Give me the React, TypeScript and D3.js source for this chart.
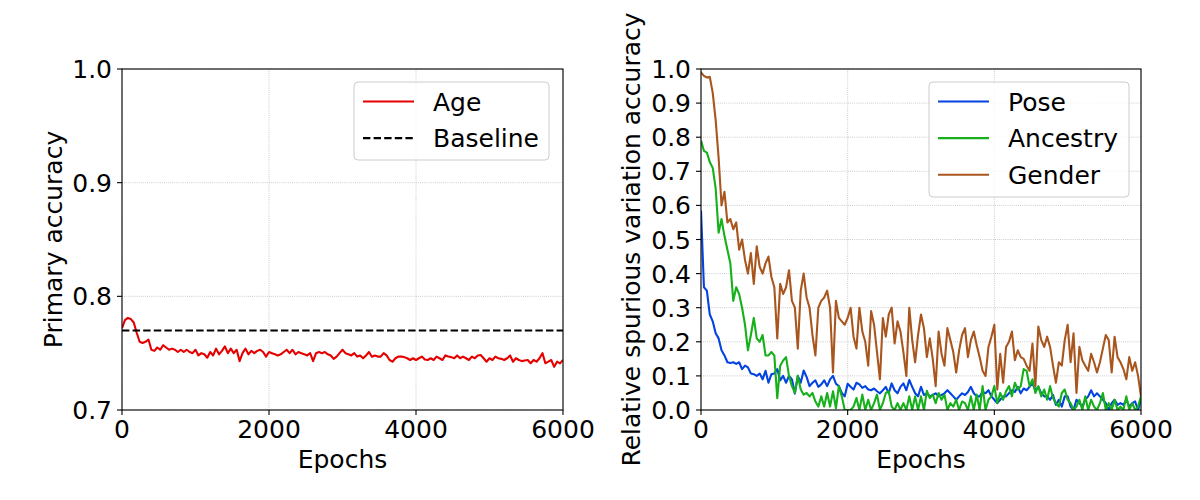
import React from "react";
import * as d3 from "d3";

// Epoch sampling: values are read every 40 epochs from 0 to 6000
const EPOCH_MAX = 6000;

const ageValues = [
  0.772, 0.779, 0.781, 0.78, 0.777, 0.768, 0.76, 0.759, 0.76, 0.762,
  0.753, 0.752, 0.755, 0.753, 0.757, 0.755, 0.753, 0.754, 0.753, 0.751,
  0.753, 0.751, 0.753, 0.751, 0.75, 0.753, 0.748, 0.75, 0.749, 0.746,
  0.751, 0.748, 0.754, 0.749, 0.752, 0.756, 0.75, 0.754, 0.75, 0.753,
  0.743, 0.75, 0.754, 0.749, 0.752, 0.75, 0.752, 0.753, 0.751, 0.747,
  0.751, 0.75, 0.749, 0.748, 0.749, 0.751, 0.753, 0.75, 0.753, 0.749,
  0.751, 0.75, 0.749, 0.748, 0.75, 0.743, 0.75, 0.751, 0.75, 0.751,
  0.749, 0.748, 0.745, 0.747, 0.75, 0.753, 0.75, 0.749, 0.748, 0.75,
  0.747, 0.748, 0.7455, 0.748, 0.751, 0.7469, 0.748, 0.747, 0.747, 0.75,
  0.748, 0.744, 0.7425, 0.7455, 0.747, 0.747, 0.7465, 0.7455, 0.744, 0.7455,
  0.744, 0.7455, 0.747, 0.7445, 0.744, 0.7455, 0.744, 0.747, 0.7455, 0.744,
  0.748, 0.747, 0.7465, 0.7455, 0.748, 0.7455, 0.747, 0.7455, 0.744, 0.747,
  0.7455, 0.748, 0.7484, 0.7455, 0.7425, 0.7455, 0.744, 0.747, 0.7455, 0.745,
  0.744, 0.7455, 0.748, 0.7425, 0.7455, 0.744, 0.743, 0.7435, 0.744, 0.7411,
  0.744, 0.7425, 0.7455, 0.75, 0.7411, 0.7425, 0.744, 0.738, 0.7425, 0.741,
  0.744,
];
const baselineValue = 0.77;

const poseValues = [
  0.585, 0.36, 0.35, 0.28, 0.26, 0.225, 0.21, 0.175, 0.16, 0.14,
  0.138, 0.14, 0.135, 0.14, 0.12, 0.13, 0.125, 0.107, 0.105, 0.1,
  0.107, 0.09, 0.115, 0.08, 0.105, 0.107, 0.12, 0.087, 0.1, 0.08,
  0.1, 0.09, 0.048, 0.1, 0.08, 0.116, 0.097, 0.07, 0.08, 0.087,
  0.068, 0.075, 0.087, 0.07, 0.09, 0.1, 0.077, 0.07, 0.05, 0.04,
  0.077, 0.068, 0.06, 0.08, 0.075, 0.065, 0.07, 0.06, 0.058, 0.063,
  0.055, 0.049, 0.058, 0.068, 0.049, 0.078, 0.058, 0.049, 0.068, 0.078,
  0.058, 0.088, 0.068, 0.049, 0.04, 0.068, 0.044, 0.049, 0.04, 0.044,
  0.049, 0.04, 0.044, 0.049, 0.058, 0.049, 0.04, 0.03, 0.04, 0.049,
  0.044, 0.053, 0.068, 0.049, 0.04, 0.04, 0.053, 0.049, 0.058, 0.04,
  0.03, 0.02, 0.03, 0.04, 0.04, 0.049, 0.058, 0.053, 0.068, 0.049,
  0.063, 0.058, 0.068, 0.078, 0.058, 0.068, 0.049, 0.04, 0.04, 0.03,
  0.044, 0.015, 0.03, 0.01, 0.04, 0.04, 0.01, 0.0, 0.03, 0.02,
  0.01, 0.03, 0.04, 0.058, 0.04, 0.049, 0.04, 0.03, 0.02, 0.0,
  0.02, 0.03, 0.015, 0.02, 0.015, 0.03, 0.01, 0.02, 0.025, 0.0,
  0.03,
];

const ancestryValues = [
  0.79, 0.76, 0.755, 0.727, 0.71, 0.65, 0.52, 0.56, 0.51, 0.47,
  0.43, 0.32, 0.36, 0.34, 0.3, 0.25, 0.175, 0.22, 0.27, 0.21,
  0.2, 0.22, 0.16, 0.16, 0.17, 0.16, 0.035, 0.13, 0.145, 0.155,
  0.1, 0.07, 0.05, 0.1, 0.06, 0.045, 0.05, 0.04, 0.05, 0.025,
  0.01, 0.04, 0.01, 0.05, 0.01, 0.055, 0.005, 0.07, 0.04, 0.0,
  0.0, 0.0, 0.01, 0.035, 0.0, 0.045, 0.0, 0.03, 0.0, 0.02,
  0.045, 0.0, 0.02, 0.05, 0.055, 0.01, 0.0, 0.02, 0.0, 0.02,
  0.0, 0.04, 0.0, 0.04, 0.0, 0.04, 0.0, 0.056, 0.035, 0.045,
  0.02, 0.05, 0.03, 0.045, 0.0, 0.02, 0.01, 0.03, 0.0, 0.025,
  0.02, 0.0, 0.04, 0.0, 0.045, 0.0, 0.07, 0.0, 0.03, 0.04,
  0.07, 0.02, 0.05, 0.03, 0.055, 0.07, 0.04, 0.08, 0.06, 0.07,
  0.12, 0.115, 0.07, 0.09, 0.05, 0.07, 0.04, 0.06, 0.03, 0.07,
  0.035, 0.02, 0.01, 0.05, 0.06, 0.03, 0.02, 0.0, 0.01, 0.03,
  0.0, 0.04, 0.0, 0.03, 0.01, 0.0, 0.02, 0.05, 0.0, 0.02,
  0.0, 0.03, 0.0, 0.01, 0.0, 0.04, 0.0, 0.02, 0.0, 0.01,
  0.04,
];

const genderValues = [
  0.99, 0.98, 0.975, 0.977, 0.93, 0.85, 0.74, 0.6, 0.64, 0.55,
  0.56, 0.53, 0.55, 0.47, 0.5, 0.44, 0.4, 0.46, 0.37, 0.48,
  0.42, 0.4, 0.43, 0.45, 0.39, 0.36, 0.21, 0.37, 0.34, 0.36,
  0.41, 0.32, 0.3, 0.18, 0.35, 0.4, 0.33, 0.3, 0.22, 0.16,
  0.3, 0.32, 0.33, 0.35, 0.3, 0.11, 0.32, 0.27, 0.26, 0.25,
  0.27, 0.3, 0.215, 0.18, 0.3, 0.23, 0.2, 0.13, 0.29, 0.25,
  0.17, 0.09, 0.27, 0.215, 0.28, 0.3, 0.195, 0.26, 0.23, 0.17,
  0.1, 0.3, 0.205, 0.14, 0.22, 0.28, 0.24, 0.155, 0.21, 0.15,
  0.07, 0.23, 0.165, 0.13, 0.24, 0.205, 0.17, 0.11, 0.175, 0.22,
  0.24, 0.155, 0.205, 0.23, 0.19, 0.155, 0.115, 0.1, 0.185, 0.215,
  0.25, 0.06, 0.165, 0.08, 0.185, 0.2, 0.23, 0.146, 0.175, 0.155,
  0.15, 0.13, 0.115, 0.195, 0.07, 0.245, 0.205, 0.185, 0.215, 0.185,
  0.13, 0.08, 0.14, 0.13, 0.205, 0.25, 0.14, 0.225, 0.05, 0.185,
  0.146, 0.13, 0.115, 0.165, 0.14, 0.11, 0.14, 0.18, 0.22, 0.205,
  0.11, 0.215, 0.155, 0.14, 0.12, 0.09, 0.155, 0.115, 0.14, 0.1,
  0.04,
];

const xTicks = [0, 2000, 4000, 6000];
const leftYTicks = [0.7, 0.8, 0.9, 1.0];
const rightYTicks = [0, 0.1, 0.2, 0.3, 0.4, 0.5, 0.6, 0.7, 0.8, 0.9, 1.0];

const leftSeries = [{ name: "Age", values: ageValues, color: "#e50000" }];
const rightSeries = [
  { name: "Pose", values: poseValues, color: "#0343df" },
  { name: "Ancestry", values: ancestryValues, color: "#15b01a" },
  { name: "Gender", values: genderValues, color: "#a9561e" },
];

const FONT = "DejaVu Sans, sans-serif";
const FS = 25;

type Series = { name: string; values: number[]; color: string };

function toPoints(values: number[]): [number, number][] {
  const n = values.length;
  return values.map((v, i) => [(i * EPOCH_MAX) / (n - 1), v]);
}

function Panel(props: {
  id: string;
  x0: number;
  x1: number;
  y0: number;
  y1: number;
  yDomain: [number, number];
  yTicks: number[];
  yLabel: string;
  yLabelX: number;
  series: Series[];
  baseline?: number;
  legend: { x: number; y: number; w: number; h: number };
}) {
  const { id, x0, x1, y0, y1, yDomain, yTicks, yLabel, yLabelX, series, baseline, legend } = props;
  const x = d3.scaleLinear().domain([0, EPOCH_MAX]).range([x0, x1]);
  const y = d3.scaleLinear().domain(yDomain).range([y1, y0]);
  const line = d3
    .line<[number, number]>()
    .x((d) => x(d[0]))
    .y((d) => y(d[1]));
  const legendItems: { name: string; color: string; dash?: string }[] = series.map((s) => ({
    name: s.name,
    color: s.color,
  }));
  if (baseline !== undefined) legendItems.push({ name: "Baseline", color: "#000", dash: "7.4,3.2" });
  const rowH = 36.6;
  const firstRow = legend.y + 19.5;
  return (
    <g>
      <defs>
        <clipPath id={id}>
          <rect x={x0} y={y0} width={x1 - x0} height={y1 - y0} />
        </clipPath>
      </defs>
      {xTicks.map((t) => (
        <line key={"gx" + t} x1={x(t)} x2={x(t)} y1={y0} y2={y1} stroke="#b0b0b0" strokeWidth={0.8} strokeDasharray="0.8,1.3" />
      ))}
      {yTicks.map((t) => (
        <line key={"gy" + t} x1={x0} x2={x1} y1={y(t)} y2={y(t)} stroke="#b0b0b0" strokeWidth={0.8} strokeDasharray="0.8,1.3" />
      ))}
      <g clipPath={`url(#${id})`}>
        {series.map((s) => (
          <path key={s.name} d={line(toPoints(s.values)) || ""} fill="none" stroke={s.color} strokeWidth={2.1} strokeLinejoin="round" />
        ))}
        {baseline !== undefined && (
          <line x1={x0} x2={x1} y1={y(baseline)} y2={y(baseline)} stroke="#000" strokeWidth={2.1} strokeDasharray="7.4,3.2" />
        )}
      </g>
      <rect x={x0} y={y0} width={x1 - x0} height={y1 - y0} fill="none" stroke="#000" strokeWidth={1.1} />
      {xTicks.map((t) => (
        <g key={"xt" + t}>
          <line x1={x(t)} x2={x(t)} y1={y1} y2={y1 + 5} stroke="#000" strokeWidth={1.1} />
          <text x={x(t)} y={y1 + 28} textAnchor="middle" fontFamily={FONT} fontSize={FS}>
            {t}
          </text>
        </g>
      ))}
      {yTicks.map((t) => (
        <g key={"yt" + t}>
          <line x1={x0 - 5} x2={x0} y1={y(t)} y2={y(t)} stroke="#000" strokeWidth={1.1} />
          <text x={x0 - 10} y={y(t)} dy="0.36em" textAnchor="end" fontFamily={FONT} fontSize={FS}>
            {d3.format(".1f")(t)}
          </text>
        </g>
      ))}
      <text x={(x0 + x1) / 2} y={y1 + 58} textAnchor="middle" fontFamily={FONT} fontSize={FS}>
        Epochs
      </text>
      <text
        transform={`translate(${yLabelX},${(y0 + y1) / 2}) rotate(-90)`}
        textAnchor="middle"
        fontFamily={FONT}
        fontSize={FS}
      >
        {yLabel}
      </text>
      <rect x={legend.x} y={legend.y} width={legend.w} height={legend.h} rx={4} fill="#fff" fillOpacity={0.8} stroke="#cccccc" strokeWidth={1} />
      {legendItems.map((it, i) => {
        const cy = firstRow + i * rowH;
        return (
          <g key={it.name}>
            <line x1={legend.x + 9} x2={legend.x + 60} y1={cy} y2={cy} stroke={it.color} strokeWidth={2.1} strokeDasharray={it.dash} />
            <text x={legend.x + 79} y={cy} dy="0.36em" fontFamily={FONT} fontSize={FS}>
              {it.name}
            </text>
          </g>
        );
      })}
    </g>
  );
}

export default function App() {
  return (
    <svg width={1200} height={500} style={{ position: "absolute", left: 0, top: 0, background: "#fff" }}>
      <rect width={1200} height={500} fill="#fff" />
      <Panel
        id="clipL"
        x0={122}
        x1={563}
        y0={69}
        y1={410}
        yDomain={[0.7, 1.0]}
        yTicks={leftYTicks}
        yLabel="Primary accuracy"
        yLabelX={62}
        series={leftSeries}
        baseline={baselineValue}
        legend={{ x: 354, y: 82, w: 195, h: 78 }}
      />
      <Panel
        id="clipR"
        x0={701}
        x1={1141}
        y0={69}
        y1={410}
        yDomain={[0, 1.0]}
        yTicks={rightYTicks}
        yLabel="Relative spurious variation accuracy"
        yLabelX={640}
        series={rightSeries}
        legend={{ x: 929, y: 82, w: 200, h: 115 }}
      />
    </svg>
  );
}
